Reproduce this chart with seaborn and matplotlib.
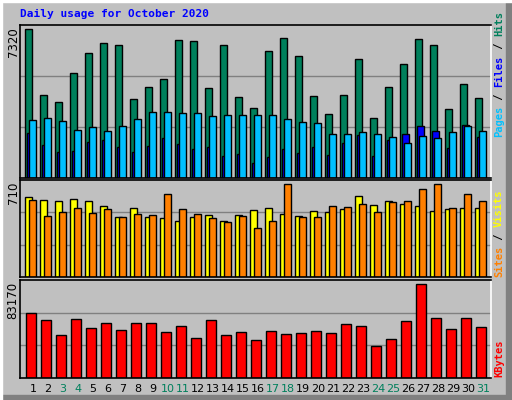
import numpy as np
import pandas as pd
import matplotlib
matplotlib.use("Agg")
import matplotlib.pyplot as plt
from matplotlib.patches import Rectangle
import seaborn as sns

days = list(range(1, 32))
hits = [7320, 4110, 3745, 5150, 6150, 6650, 6550, 3895, 4500, 4900, 6800, 6750, 4450, 6550, 4000, 3445,
        6250, 6900, 6000, 4045, 3145, 4100, 5850, 2945, 4500, 5600, 6850, 6550, 3395, 4650, 3945]
files = [2240, 1640, 1290, 1340, 1790, 1890, 1540, 1290, 1590, 1990, 1690, 1440, 1540, 1090, 1190, 740,
         1040, 1440, 1240, 1540, 1140, 1740, 2140, 1090, 1890, 2190, 2540, 2340, 1490, 2590, 2040]
pages = [2840, 2945, 2790, 2390, 2490, 2340, 2540, 2890, 3245, 3245, 3190, 3190, 3040, 3095, 3095, 3095,
         3095, 2890, 2740, 2690, 2190, 2190, 2290, 2190, 2040, 1740, 2090, 1990, 2290, 2540, 2340]
sites = [585, 563, 556, 570, 556, 519, 440, 505, 440, 433, 411, 440, 454, 411, 454, 490,
         505, 461, 447, 483, 476, 498, 592, 527, 556, 534, 519, 483, 498, 505, 505]
visits = [563, 447, 476, 505, 469, 498, 440, 461, 454, 606, 498, 461, 432, 403, 447, 360,
          411, 679, 440, 440, 519, 512, 534, 476, 548, 556, 643, 679, 505, 606, 556]
kbytes = [54900, 49000, 36200, 49800, 42200, 46400, 40500, 46400, 46400, 38800, 43900, 33700, 49000, 36200,
          38800, 32000, 39600, 37100, 37900, 39600, 37900, 45600, 43900, 26900, 32800, 48100, 79500, 50700,
          41300, 50700, 43000]
weekend = [3, 4, 10, 11, 17, 18, 24, 25, 31]
max_hits, max_visits, max_kb = 7320, 710, 83170

W, H = 512, 400
BG = "#C0C0C0"
sns.set_theme(style="white")
plt.rcParams['font.family'] = ['DejaVu Sans']
fig = plt.figure(figsize=(W / 100, H / 100), dpi=100, facecolor=BG)

def px_axes(x0, y0, x1, y1):
    ax = fig.add_axes([x0 / W, 1 - y1 / H, (x1 - x0) / W, (y1 - y0) / H])
    ax.set_facecolor(BG)
    return ax

d = np.array(days, dtype=float)
step = 15.0
xmin = 1 - 5.3 / step
xmax = xmin + (491 - 20) / step
bw = 7 / step

def bars(ax, offset, vals, color, width=bw):
    sns.barplot(x=d + offset, y=vals, native_scale=True, width=width, color=color,
                edgecolor="black", linewidth=1, saturation=1, ax=ax)

def style(ax, ymax):
    ax.set_xlim(xmin, xmax)
    ax.set_ylim(0, ymax)
    for v in (ymax / 3, 2 * ymax / 3):
        ax.axhline(v, color="#808080", lw=1, zorder=0)
    ax.set_xticks([]); ax.set_yticks([])
    ax.set_xlabel(""); ax.set_ylabel("")
    for s in ax.spines.values():
        s.set_color("black"); s.set_linewidth(1.2)
    ax.spines['right'].set_color("white")

ax1 = px_axes(20, 25, 491, 178)
bars(ax1, 3.5 / step, hits, "#00805C")
bars(ax1, 5.0 / step, files, "#0000FF")
bars(ax1, 7.5 / step, pages, "#00C0FF")
style(ax1, max_hits * 1.03)

ax2 = px_axes(20, 180, 491, 277)
bars(ax2, 3.5 / step, sites, "#FFFF00")
bars(ax2, 7.5 / step, visits, "#FF8000")
style(ax2, max_visits)

ax3 = px_axes(20, 280, 491, 378)
bars(ax3, 6.0 / step, kbytes, "#FF0000", width=10 / step)
style(ax3, max_kb)

# max labels
for y, s in ((27, "7320"), (182, "710"), (282, "83170")):
    fig.text(13 / W, 1 - y / H, s, rotation=90, ha="center", va="top", fontsize=8.5, color="black")

# day labels
for dd in days:
    xpx = 25.3 + step * (dd - 1) + 7.7
    fig.text(xpx / W, 1 - 389 / H, str(dd), ha="center", va="center", fontsize=8,
             color="#00805C" if dd in weekend else "black")

fig.text(20 / W, 1 - 14 / H, "Daily usage for October 2020", ha="left", va="center",
         fontsize=8, fontweight="bold", family="DejaVu Sans Mono", color="#0000FF")

def vlabel(parts, ybottom):
    y = ybottom
    for txt, col in parts:
        t = fig.text(499 / W, 1 - y / H, txt, rotation=90, ha="center", va="bottom",
                     fontsize=7.5, fontweight="bold", family="DejaVu Sans Mono", color=col)
        y -= len(txt) * 6.3

vlabel([("Pages", "#00C0FF"), (" / ", "black"), ("Files", "#0000FF"), (" / ", "black"), ("Hits", "#00805C")], 137)
vlabel([("Sites", "#FF8000"), (" / ", "black"), ("Visits", "#FFFF00")], 277)
vlabel([("KBytes", "#FF0000")], 377)

# frame effects
fig.patches.append(Rectangle((506 / W, 0), 6 / W, 1, transform=fig.transFigure, color="#808080", zorder=-1))
fig.patches.append(Rectangle((0, 0), 1, 5 / H, transform=fig.transFigure, color="#808080", zorder=-1))
fig.patches.append(Rectangle((0, 0), 2 / W, 1, transform=fig.transFigure, color="white", zorder=0))
fig.patches.append(Rectangle((0, 1 - 2 / H), 1, 2 / H, transform=fig.transFigure, color="white", zorder=0))

fig.savefig("out.png", dpi=100, facecolor=BG)
